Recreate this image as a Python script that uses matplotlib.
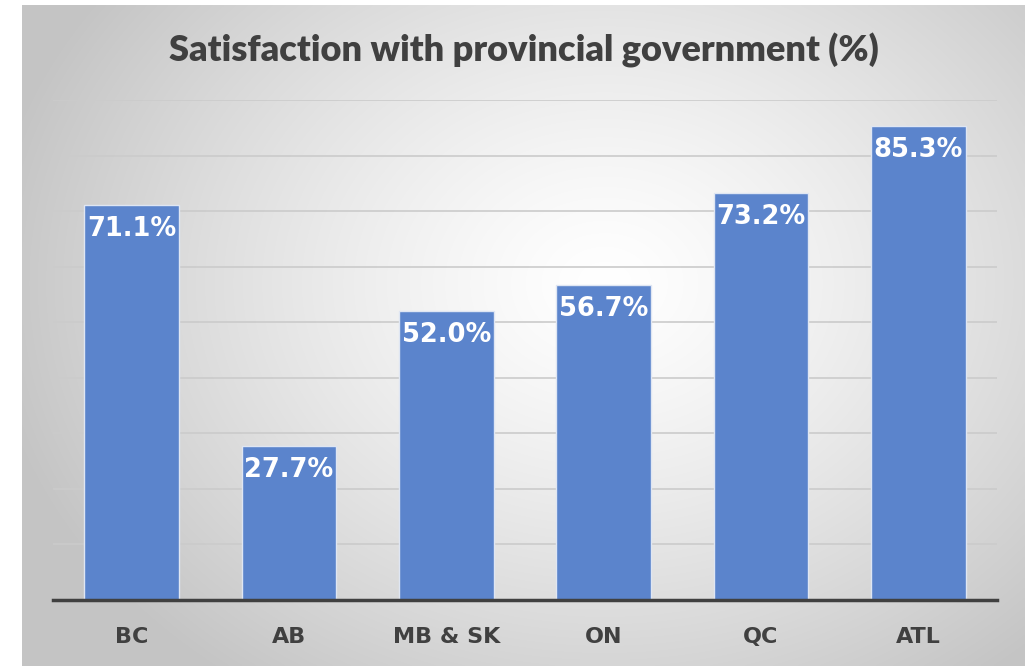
import numpy as np
import matplotlib
matplotlib.use("Agg")
import matplotlib.pyplot as plt

# Data
regions = ["BC", "AB", "MB & SK", "ON", "QC", "ATL"]
satisfaction = [71.1, 27.7, 52.0, 56.7, 73.2, 85.3]

fig = plt.figure(figsize=(10.28, 6.66), dpi=100)
fig.patch.set_facecolor("white")

# radial gradient background panel
bg = fig.add_axes([22 / 1028, 0, (1025 - 22) / 1028, 661 / 666])
ny, nx = 330, 500
yy, xx = np.mgrid[0:ny, 0:nx]
cx, cy = nx * 0.58, ny * 0.42
r = np.sqrt(((xx - cx) / (nx * 0.62)) ** 2 + ((yy - cy) / (ny * 0.75)) ** 2)
r = np.clip(r, 0, 1)
shade = 1.0 - 0.23 * r ** 1.3
bg.imshow(np.dstack([shade] * 3), aspect="auto", interpolation="bilinear")
bg.set_axis_off()

ax = fig.add_axes([53 / 1028, 1 - 600 / 666, (997 - 53) / 1028, 500 / 666])
ax.patch.set_alpha(0)

x = np.arange(len(regions))
bars = ax.bar(x, satisfaction, width=0.6, color="#5B84CC", edgecolor="#dfe6f3",
              linewidth=1.0, zorder=3)

for b, v in zip(bars, satisfaction):
    ax.text(b.get_x() + b.get_width() / 2, v - 2.0, f"{v:.1f}%", ha="center", va="top",
            color="white", fontsize=18.5, fontweight="bold", family="DejaVu Sans", zorder=4)

ax.set_xlim(-0.5, len(regions) - 0.5)
ax.set_ylim(0, 90)
ax.set_yticks(np.arange(0, 91, 10))
ax.yaxis.grid(True, color="#cbcbcb", linewidth=1.2, zorder=0)
ax.tick_params(axis="y", left=False, labelleft=False)
ax.tick_params(axis="x", bottom=False, pad=16)
ax.set_xticks(x)
ax.set_xticklabels(regions, fontsize=16, fontweight="bold", color="#404040", family="DejaVu Sans")
for s in ["top", "right", "left"]:
    ax.spines[s].set_visible(False)
ax.spines["bottom"].set_color("#404040")
ax.spines["bottom"].set_linewidth(2.5)
ax.spines["bottom"].set_zorder(5)

fig.text(0.51, 0.925, "Satisfaction with provincial government (%)", ha="center", va="center",
         fontsize=26, fontweight="heavy", color="#404040", family="Lato")

fig.savefig("out.png", dpi=100)
